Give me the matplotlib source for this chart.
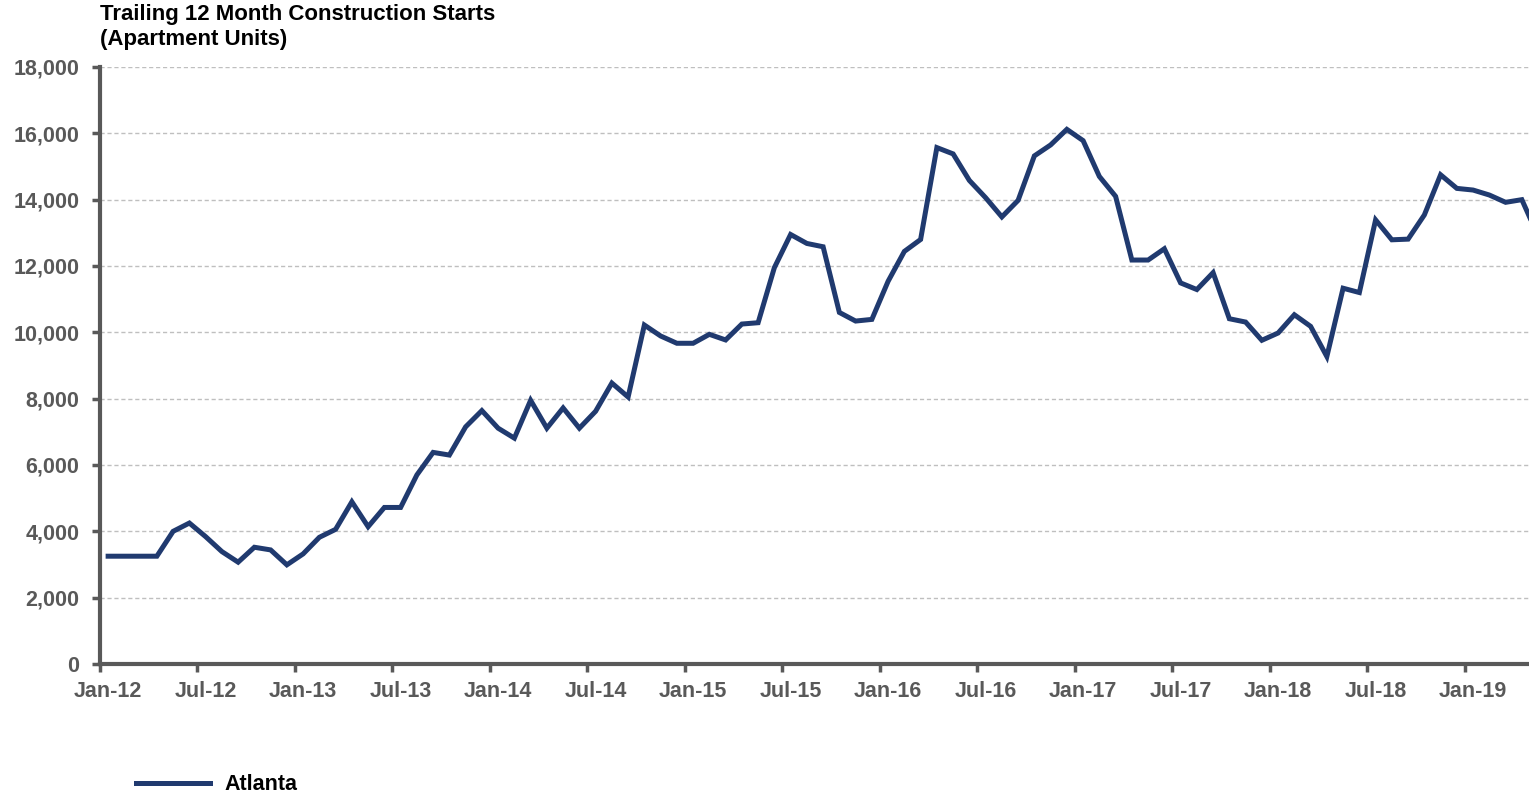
import matplotlib.pyplot as plt
import numpy as np

plt.rcParams['font.family'] = ['Liberation Sans', 'DejaVu Sans']

# monthly trailing 12 month apartment starts, Jan-12 .. May-19
months = []
for yr in range(12, 20):
    for mo in ['Jan', 'Feb', 'Mar', 'Apr', 'May', 'Jun', 'Jul', 'Aug', 'Sep', 'Oct', 'Nov', 'Dec']:
        months.append(f'{mo}-{yr}')
months = months[:89]

atlanta = [
    3250, 3250, 3250, 3250, 4000, 4250, 3840, 3390, 3070, 3520, 3440, 2990,
    3320, 3820, 4060, 4890, 4140, 4720, 4720, 5700, 6380, 6300, 7150, 7640,
    7110, 6810, 7950, 7110, 7720, 7110, 7620, 8470, 8050, 10220, 9890, 9670,
    9670, 9940, 9770, 10250, 10290, 11950, 12950, 12680, 12580, 10600, 10340, 10390,
    11540, 12440, 12800, 15570, 15380, 14580, 14060, 13480, 13980, 15320, 15650, 16120,
    15780, 14700, 14100, 12180, 12180, 12520, 11490, 11290, 11800, 10410, 10310, 9760,
    9980, 10530, 10180, 9270, 11330, 11200, 13390, 12790, 12810, 13540, 14750, 14340,
    14290, 14140, 13920, 14000, 12900,
]

tick_every = 6
axis_grey = '#595959'
line_blue = '#203A6F'
fs = 15.5

fig = plt.figure(figsize=(15.29, 7.93), dpi=100)
ax = fig.add_axes([100 / 1529, 1 - 664 / 793, 1 - 100 / 1529, (664 - 67) / 793])

x = np.arange(len(atlanta))
ax.plot(x, atlanta, color=line_blue, linewidth=3.6, solid_joinstyle='miter',
        label='Atlanta', clip_on=True)

ax.set_xlim(-0.5, 87.44)
ax.set_ylim(0, 18000)

# ticks sit on category boundaries, labels in the middle of each category
ax.set_xticks(np.arange(0, len(atlanta), tick_every) - 0.5)
ax.set_xticklabels([])
ax.set_xticks(np.arange(0, len(atlanta), tick_every), minor=True)
ax.set_xticklabels(months[::tick_every], minor=True)
ax.tick_params(axis='x', which='major', length=6, width=2.5, color=axis_grey, direction='out')
ax.tick_params(axis='x', which='minor', length=0, pad=12, labelsize=fs,
               labelcolor=axis_grey)

yt = np.arange(0, 18001, 2000)
ax.set_yticks(yt)
ax.set_yticklabels([f'{v:,}' for v in yt])
ax.tick_params(axis='y', length=6, width=2.5, color=axis_grey, direction='out',
               labelsize=fs, labelcolor=axis_grey, pad=9)
for lab in ax.get_xticklabels(minor=True) + ax.get_yticklabels():
    lab.set_fontweight('bold')

ax.yaxis.grid(True, color='#bfbfbf', linestyle=(0, (3, 2)), linewidth=1)
ax.set_axisbelow(True)
for side in ['top', 'right']:
    ax.spines[side].set_visible(False)
for side in ['left', 'bottom']:
    ax.spines[side].set_color(axis_grey)
    ax.spines[side].set_linewidth(3)

fig.text(100 / 1529, 1 - 4 / 793, 'Trailing 12 Month Construction Starts\n(Apartment Units)',
         ha='left', va='top', fontsize=16, fontweight='bold', color='black',
         linespacing=1.25)

fig.legend(loc='lower left', bbox_to_anchor=(117 / 1529, -0.027), frameon=False,
           handlelength=3.4, handletextpad=0.7,
           prop={'weight': 'bold', 'size': fs})

fig.savefig('out.png', dpi=100)
